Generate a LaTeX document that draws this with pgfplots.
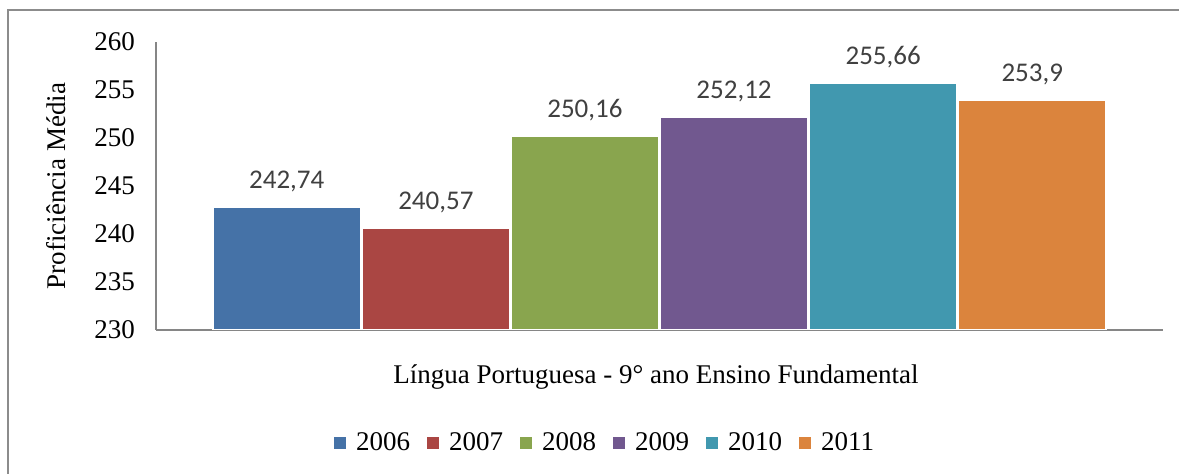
\documentclass[border=0pt]{standalone}
\usepackage{fontspec}
\setmainfont{Liberation Serif}
\newfontfamily\carlito{Carlito}
\usepackage{pgfplots}
\pgfplotsset{compat=1.18}
\definecolor{c06}{HTML}{4572A7}
\definecolor{c07}{HTML}{AA4643}
\definecolor{c08}{HTML}{89A54E}
\definecolor{c09}{HTML}{71588F}
\definecolor{c10}{HTML}{4198AF}
\definecolor{c11}{HTML}{DB843D}
\definecolor{framegray}{HTML}{8C8C8C}
\definecolor{axgray}{HTML}{868686}
\definecolor{lblgray}{HTML}{404040}
\pgfplotsset{sq/.style={legend image code/.code={\fill[#1,draw=none] (0pt,-3pt) rectangle (6pt,3pt); \path[draw=none,fill=none] (0pt,0pt) -- (9pt,0pt);}}}

\begin{document}
\begin{tikzpicture}
\useasboundingbox (0pt,0pt) rectangle (589.5pt,237pt);
\draw[framegray, line width=1.1pt] (4pt,-3pt) -- (4pt,232pt) -- (595pt,232pt);
\begin{axis}[
  at={(78pt,72pt)}, anchor=south west,
  scale only axis, width=503.5pt, height=144pt,
  xmin=-1, xmax=1, ymin=230, ymax=260,
  ytick={230,235,...,260}, xtick=\empty,
  ybar=0.55pt, bar width=74pt,
  axis x line*=bottom, axis y line*=left,
  axis line style={axgray, line width=0.75pt},
  major tick length=0pt,
  tick label style={font=\fontsize{13.5}{16}\selectfont},
  /pgf/number format/assume math mode=true,
  yticklabel style={xshift=-7pt},
  ylabel={Proficiência Média},
  ylabel style={at={(rel axis cs:-0.0993,0.5)}, anchor=center, font=\fontsize{13.5}{16}\selectfont},
  xlabel={Língua Portuguesa - 9° ano Ensino Fundamental},
  xlabel style={at={(rel axis cs:0.4965,-0.163)}, anchor=center, font=\fontsize{13.5}{16}\selectfont},
  nodes near coords={\pgfmathprintnumber[use comma]{\pgfplotspointmeta}},
  every node near coord/.append style={font=\carlito\fontsize{13.5}{16}\selectfont, text=lblgray, yshift=4pt},
  every axis plot/.append style={draw=white, line width=0.8pt},
  legend columns=6,
  legend style={draw=none, at={(rel axis cs:0.447,-0.392)}, anchor=center,
    font=\fontsize{13.5}{16}\selectfont,
    /tikz/every even column/.append style={column sep=6.5pt}},
]
\addplot[fill=c06, sq=c06] coordinates {(0,242.74)};
\addplot[fill=c07, sq=c07] coordinates {(0,240.57)};
\addplot[fill=c08, sq=c08] coordinates {(0,250.16)};
\addplot[fill=c09, sq=c09] coordinates {(0,252.12)};
\addplot[fill=c10, sq=c10] coordinates {(0,255.66)};
\addplot[fill=c11, sq=c11] coordinates {(0,253.9)};
\legend{2006,2007,2008,2009,2010,2011}
\end{axis}
\end{tikzpicture}
\end{document}
